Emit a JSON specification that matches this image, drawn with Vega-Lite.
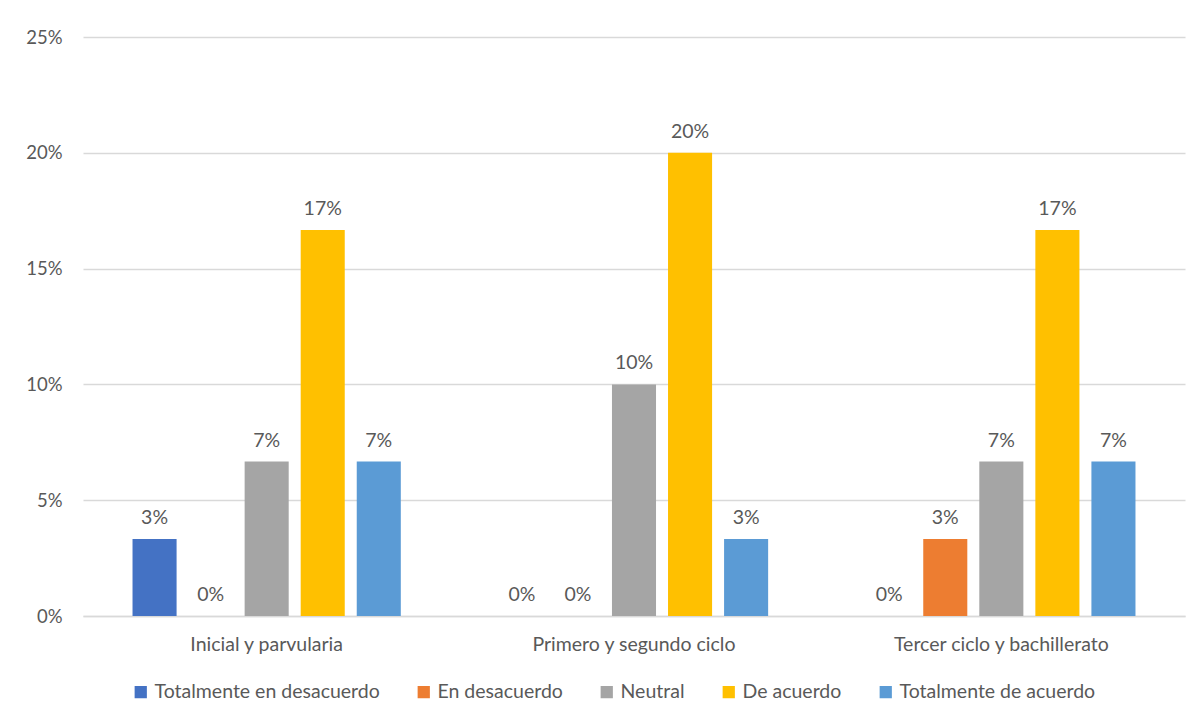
{
  "$schema": "https://vega.github.io/schema/vega-lite/v6.json",
  "width": 1102,
  "height": 579,
  "autosize": {"type": "none"},
  "padding": {"left": 83, "top": 37, "right": 16, "bottom": 105},
  "background": "white",
  "config": {
    "font": "Lato",
    "view": {"stroke": null},
    "axis": {"labelFont": "Lato", "labelColor": "#595959", "titleFont": "Lato"},
    "legend": {"labelFont": "Lato", "labelFontSize": 19.5, "labelColor": "#595959"}
  },
  "data": {
    "values": [
      {"cat": "Inicial y parvularia", "series": "Totalmente en desacuerdo", "value": 0.0333},
      {"cat": "Inicial y parvularia", "series": "En desacuerdo", "value": 0},
      {"cat": "Inicial y parvularia", "series": "Neutral", "value": 0.0667},
      {"cat": "Inicial y parvularia", "series": "De acuerdo", "value": 0.1667},
      {"cat": "Inicial y parvularia", "series": "Totalmente de acuerdo", "value": 0.0667},
      {"cat": "Primero y segundo ciclo", "series": "Totalmente en desacuerdo", "value": 0},
      {"cat": "Primero y segundo ciclo", "series": "En desacuerdo", "value": 0},
      {"cat": "Primero y segundo ciclo", "series": "Neutral", "value": 0.1},
      {"cat": "Primero y segundo ciclo", "series": "De acuerdo", "value": 0.2},
      {"cat": "Primero y segundo ciclo", "series": "Totalmente de acuerdo", "value": 0.0333},
      {"cat": "Tercer ciclo y bachillerato", "series": "Totalmente en desacuerdo", "value": 0},
      {"cat": "Tercer ciclo y bachillerato", "series": "En desacuerdo", "value": 0.0333},
      {"cat": "Tercer ciclo y bachillerato", "series": "Neutral", "value": 0.0667},
      {"cat": "Tercer ciclo y bachillerato", "series": "De acuerdo", "value": 0.1667},
      {"cat": "Tercer ciclo y bachillerato", "series": "Totalmente de acuerdo", "value": 0.0667}
    ]
  },
  "encoding": {
    "x": {
      "field": "cat", "type": "nominal", "title": null,
      "sort": ["Inicial y parvularia", "Primero y segundo ciclo", "Tercer ciclo y bachillerato"],
      "scale": {"paddingInner": 0.237, "paddingOuter": 0.1185},
      "axis": {"labelAngle": 0, "labelFontSize": 19.5, "labelLimit": 0, "ticks": false, "domain": true, "domainColor": "#d9d9d9", "domainWidth": 1.5, "labelPadding": 19}
    },
    "xOffset": {
      "field": "series", "type": "nominal",
      "sort": ["Totalmente en desacuerdo", "En desacuerdo", "Neutral", "De acuerdo", "Totalmente de acuerdo"],
      "scale": {"paddingInner": 0.214, "paddingOuter": 0.107}
    },
    "y": {
      "field": "value", "type": "quantitative", "title": null,
      "scale": {"domain": [0, 0.25], "nice": false},
      "axis": {"format": ".0%", "labelFontSize": 18.5, "values": [0, 0.05, 0.1, 0.15, 0.2, 0.25], "domain": false, "ticks": false, "gridColor": "#d9d9d9", "gridWidth": 1.5, "labelPadding": 21}
    }
  },
  "layer": [
    {
      "mark": {"type": "bar"},
      "encoding": {
        "color": {
          "field": "series", "type": "nominal", "title": null,
          "sort": ["Totalmente en desacuerdo", "En desacuerdo", "Neutral", "De acuerdo", "Totalmente de acuerdo"],
          "scale": {
            "domain": ["Totalmente en desacuerdo", "En desacuerdo", "Neutral", "De acuerdo", "Totalmente de acuerdo"],
            "range": ["#4472C4", "#ED7D31", "#A5A5A5", "#FFC000", "#5B9BD5"]
          },
          "legend": {"orient": "none", "legendX": 48, "legendY": 645, "direction": "horizontal", "symbolType": "square", "symbolSize": 150, "symbolStrokeWidth": 0, "columnPadding": 34, "labelOffset": 4, "labelLimit": 0}
        }
      }
    },
    {
      "mark": {"type": "text", "baseline": "bottom", "dy": -11, "fontSize": 19.5, "color": "#595959", "font": "Lato"},
      "encoding": {
        "text": {"field": "value", "type": "quantitative", "format": ".0%"}
      }
    }
  ]
}
